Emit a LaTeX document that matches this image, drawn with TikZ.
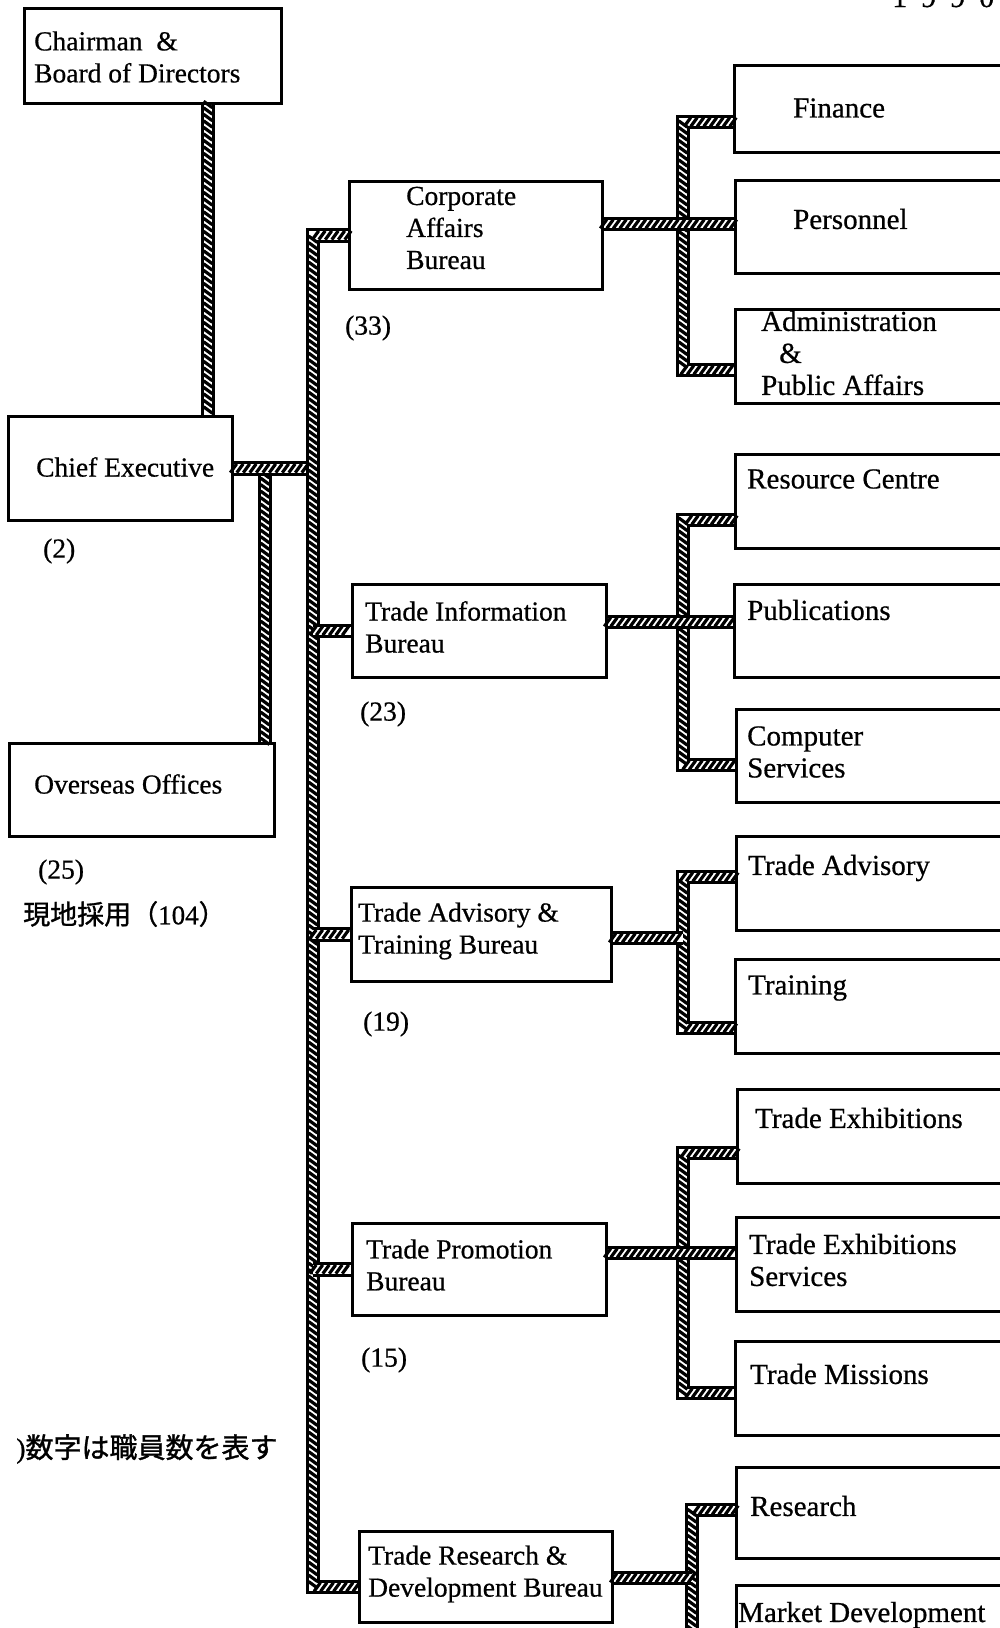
\documentclass[tikz,border=0pt]{standalone}
\usepackage{fontspec}
\setmainfont{Liberation Serif}[FakeBold=0.6]
\newfontfamily\heavy{Liberation Serif}[FakeBold=0.6]
\newfontfamily\jp{Noto Sans CJK JP}[FakeBold=1.2]
\usetikzlibrary{decorations.markings}
\begin{document}
\begin{tikzpicture}[x=1pt,y=-1pt,
  box/.style={draw, line width=2.5pt, anchor=north west, inner sep=0pt},
  rbox/.style={box, minimum width=320pt},
  txt/.style={font=\heavy\fontsize{27.5}{32}\selectfont, inner sep=0pt, align=left, anchor=west},
  rtxt/.style={txt, font=\heavy\fontsize{29}{32}\selectfont},
  jptxt/.style={font=\fontsize{27}{30}\selectfont, inner sep=0pt, anchor=west},
  band/.style={preaction={draw, line width=3pt, double=white, double distance=8.5pt, line join=miter, line cap=butt},
    postaction={decorate, decoration={markings, mark=between positions 0 and 1 step 6.5pt with {\draw[line width=3.2pt, line cap=butt] (-3.2pt,-4.4pt) -- (3.2pt,4.4pt);}}}}
]
\useasboundingbox (0,0) rectangle (999,1628);
\fill[white] (0,0) rectangle (999,1628);

% left column boxes
\node[box, minimum width=257pt, minimum height=95pt] (chair) at (23,7) {};
\node[box, minimum width=224pt, minimum height=104pt] (ce) at (7,415) {};
\node[box, minimum width=265pt, minimum height=93pt] (oo) at (8,742) {};
% bureaus
\node[box, minimum width=253pt, minimum height=108pt] (ca) at (348,180) {};
\node[box, minimum width=254pt, minimum height=93pt] (ti) at (351,583) {};
\node[box, minimum width=260pt, minimum height=94pt] (ta) at (350,886) {};
\node[box, minimum width=254pt, minimum height=92pt] (tp) at (351,1222) {};
\node[box, minimum width=253pt, minimum height=91pt] (tr) at (358,1530) {};
% right column
\node[rbox, minimum height=87pt] (fin) at (733,64) {};
\node[rbox, minimum height=93pt] (per) at (734,179) {};
\node[rbox, minimum height=94pt] (adm) at (734,308) {};
\node[rbox, minimum height=94pt] (rc) at (734,453) {};
\node[rbox, minimum height=93pt] (pub) at (733,583) {};
\node[rbox, minimum height=93pt] (cs) at (735,708) {};
\node[rbox, minimum height=94pt] (tadv) at (735,835) {};
\node[rbox, minimum height=94pt] (trn) at (734,958) {};
\node[rbox, minimum height=94pt] (te) at (736,1088) {};
\node[rbox, minimum height=94pt] (tes) at (735,1216) {};
\node[rbox, minimum height=94pt] (tm) at (734,1340) {};
\node[rbox, minimum height=91pt] (res) at (735,1466) {};
\node[rbox, minimum height=120pt] (md) at (735,1584) {};

% texts
\node[txt] (tchair) at (34,57) {Chairman \ \&\\Board of Directors};
\node[txt] (tce) at (36,467) {Chief Executive};
\node[txt] (too) at (34,784) {Overseas Offices};
\node[txt] (tca) at (406,228) {Corporate\\Affairs\\Bureau};
\node[txt] (tti) at (365,627) {Trade Information\\Bureau};
\node[txt] (tta) at (358,931) {Trade Advisory \&\\Training Bureau};
\node[txt] (ttp) at (366,1265) {Trade Promotion\\Bureau};
\node[txt] (ttr) at (368,1574) {Trade Research \&\\Development Bureau};
\node[rtxt] (tfin) at (793,108) {Finance};
\node[rtxt] (tper) at (793,219) {Personnel};
\node[rtxt] (tadm) at (761,353) {Administration\\\hspace*{18pt}\&\\Public Affairs};
\node[rtxt] (trc) at (747,479) {Resource Centre};
\node[rtxt] (tpub) at (747,610) {Publications};
\node[rtxt] (tcs) at (747,752) {Computer\\Services};
\node[rtxt] (ttadv) at (748,868) {Trade Advisory};
\node[rtxt] (ttrn) at (748,988) {Training};
\node[rtxt] (tte) at (755,1118) {Trade Exhibitions};
\node[rtxt] (ttes) at (749,1260) {Trade Exhibitions\\Services};
\node[rtxt] (ttm) at (750,1374) {Trade Missions};
\node[rtxt] (tres) at (750,1506) {Research};
\node[rtxt] (tmd) at (738,1615) {Market Development};

% staff numbers
\node[txt] (n2) at (43,551) {(2)};
\node[txt] (n33) at (345,328) {(33)};
\node[txt] (n23) at (360,714) {(23)};
\node[txt] (n25) at (38,872) {(25)};
\node[jptxt] (nloc) at (23,914) {{\jp 現地採用（}{\heavy 104}{\jp ）}};
\node[txt] (n19) at (363,1024) {(19)};
\node[txt] (n15) at (361,1360) {(15)};
\node[jptxt, font=\fontsize{28}{30}\selectfont] (note) at (16,1449) {{\heavy )}{\jp 数字は職員数を表す}};
\node[font=\heavy\fontsize{30}{30}\selectfont, anchor=base west, inner sep=0pt] (yr) at (892,7) {1\hspace{14pt}9\hspace{14pt}9\hspace{14pt}0};

% helper coordinates
\coordinate (cx) at (208,0);
\coordinate (ob) at (265,0);
\coordinate (sp) at (313,0);
\coordinate (vx) at (683,0);
\coordinate (vx2) at (692,0);
\coordinate (trb) at (0,1587);
\coordinate (h1) at (0,224);
\coordinate (b1t) at (0,122);
\coordinate (b1b) at (0,370);
\coordinate (h2) at (0,622);
\coordinate (b2t) at (0,520);
\coordinate (b2b) at (0,765);
\coordinate (h3) at (0,938);
\coordinate (b3t) at (0,877);
\coordinate (b3b) at (0,1028);
\coordinate (h4) at (0,1253);
\coordinate (b4t) at (0,1153);
\coordinate (b4b) at (0,1393);
\coordinate (h5) at (0,1578);
\coordinate (b5t) at (0,1510);
\coordinate (bend) at (692,1660);

% connectors left
\path[band] (chair.south -| cx) -- (ce.north -| cx);
\path[band] (ce.east -| ob) -- (oo.north -| ob);
\path[band] (ce.east) -- (ce.east -| sp);
\path[band] (ca.west) -| (sp |- trb) -- (tr.west |- trb);
\path[band] (ti.west -| sp) -- (ti.west);
\path[band] (ta.west -| sp) -- (ta.west);
\path[band] (tp.west -| sp) -- (tp.west);

% connectors right
\path[band] (fin.west |- b1t) -| (vx |- b1b) -- (adm.west |- b1b);
\path[band] (ca.east |- h1) -- (per.west |- h1);
\path[band] (rc.west |- b2t) -| (vx |- b2b) -- (cs.west |- b2b);
\path[band] (ti.east |- h2) -- (pub.west |- h2);
\path[band] (tadv.west |- b3t) -| (vx |- b3b) -- (trn.west |- b3b);
\path[band] (ta.east |- h3) -- (vx |- h3);
\path[band] (te.west |- b4t) -| (vx |- b4b) -- (tm.west |- b4b);
\path[band] (tp.east |- h4) -- (tes.west |- h4);
\path[band] (res.west |- b5t) -| (bend);
\path[band] (tr.east |- h5) -- (vx2 |- h5);
\end{tikzpicture}
\end{document}
